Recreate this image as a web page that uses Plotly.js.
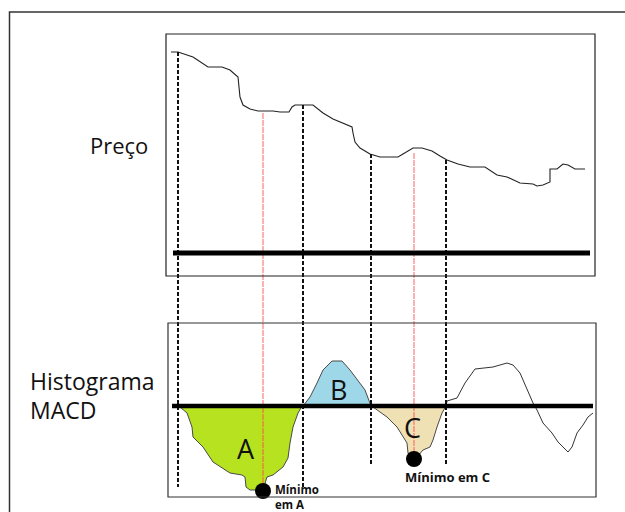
<!DOCTYPE html>
<html>
<head>
<meta charset="utf-8">
<script src="https://cdn.plot.ly/plotly-3.0.1.min.js"></script>
<style>html,body{margin:0;padding:0;background:#fff;}#chart{width:625px;height:512px;}</style>
</head>
<body>
<div id="chart"></div>
<script>
// Price path (time, level in chart rows; axis is reversed)
var priceT = [171,178,193,202,208,222,230,238,240,243,250,258,273,280,289,292,295,313,323,333,343,352,353,355,360,370,380,398,403,413,422,432,440,447,458,470,485,497,507,520,533,537,543,550,550,557,563,568,575,585];
var priceV = [52,52,57,63,67,67,70,77,97,105,109,111,111,112,112,107,105,105,113,119,123,127,133,142,148,154,157,157,154,148,148,151,156,160,164,167,167,175,177,183,184,186,185,182,169,169,164,165,169,169];

// MACD histogram segments
var areaAT = [178,180,187,192,193,203,213,230,242,245,246,250,263,267,273,283,288,290,293,298,302,178];
var areaAV = [406,407,413,427,437,447,462,473,475,477,487,490,490,477,475,467,458,443,427,413,406,406];
var areaBT = [303,310,317,323,332,342,350,360,365,368,371,303];
var areaBV = [406,397,383,370,361,361,370,383,390,398,406,406];
var areaCT = [371,373,387,397,407,408,417,423,430,433,437,442,446,371];
var areaCV = [406,407,417,427,443,453,457,450,447,440,427,413,406,406];
var restT = [446,447,457,465,475,493,507,513,520,527,533,537,543,552,558,563,568,572,577,583,588,593];
var restV = [406,401,398,383,369,367,363,365,373,390,403,410,423,433,442,447,452,447,433,425,417,413];

// Zero-crossing dividers and minima markers
var crossT = [178,303,371,446];
var crossTop = [52,105,154,160];
var crossBottom = [487,487,465,465];
var minT = [263,414];
var minTop = [113,153];
var minBottom = [485,452];
var minDotV = [491,459];

var traces = [];
function fillArea(t, v, color) {
  traces.push({x:t, y:v, mode:'lines', fill:'toself', fillcolor:color,
    line:{color:'#4a4a4a', width:1}, hoverinfo:'skip', showlegend:false});
}
fillArea(areaAT, areaAV, '#b6e21f');
fillArea(areaBT, areaBV, '#9ed8e8');
fillArea(areaCT, areaCV, '#efe1b3');
traces.push({x:restT, y:restV, mode:'lines', line:{color:'#333', width:1}, showlegend:false, hoverinfo:'skip'});
traces.push({x:priceT, y:priceV, mode:'lines', line:{color:'#222', width:1.1}, showlegend:false, hoverinfo:'skip'});

for (var i = 0; i < crossT.length; i++) {
  traces.push({x:[crossT[i], crossT[i]], y:[crossTop[i], crossBottom[i]], mode:'lines',
    line:{color:'#111', width:2, dash:'4px,2px'}, showlegend:false, hoverinfo:'skip'});
}
for (var j = 0; j < minT.length; j++) {
  traces.push({x:[minT[j], minT[j]], y:[minTop[j], minBottom[j]], mode:'lines',
    line:{color:'rgba(255,70,70,0.85)', width:1, dash:'6px,1px'}, showlegend:false, hoverinfo:'skip'});
}
traces.push({x:minT, y:minDotV, mode:'markers', marker:{color:'#000', size:16, line:{width:0}}, showlegend:false, hoverinfo:'skip'});

var fontMain = 'Open Sans, DejaVu Sans, sans-serif';
var layout = {
  width:625, height:512,
  margin:{l:0,r:0,t:0,b:0},
  paper_bgcolor:'#fff', plot_bgcolor:'#fff',
  xaxis:{range:[0,625], visible:false, fixedrange:true},
  yaxis:{range:[512,0], visible:false, fixedrange:true},
  shapes:[
    {type:'rect', xref:'x', yref:'y', x0:9.5, y0:12, x1:640, y1:530, line:{color:'#333', width:1.5}},
    {type:'rect', xref:'x', yref:'y', x0:166, y0:34, x1:595, y1:276, line:{color:'#222', width:1.2}},
    {type:'rect', xref:'x', yref:'y', x0:168, y0:323, x1:596, y1:497, line:{color:'#333', width:1.2}},
    {type:'line', xref:'x', yref:'y', x0:173, y0:253, x1:590, y1:253, line:{color:'#000', width:5}},
    {type:'line', xref:'x', yref:'y', x0:172, y0:406, x1:593, y1:406, line:{color:'#000', width:4.5}, layer:'above'}
  ],
  annotations:[
    {x:119, y:145, text:'Preço', showarrow:false, font:{family:fontMain, size:22, color:'#111'}},
    {x:28, y:381, xanchor:'left', text:'Histograma', showarrow:false, font:{family:fontMain, size:23, color:'#111'}},
    {x:28, y:410, xanchor:'left', text:'MACD', showarrow:false, font:{family:fontMain, size:23, color:'#111'}},
    {x:246, y:448, text:'A', showarrow:false, font:{family:fontMain, size:27, color:'#111'}},
    {x:338, y:389, text:'B', showarrow:false, font:{family:fontMain, size:27, color:'#111'}},
    {x:412, y:427, text:'C', showarrow:false, font:{family:fontMain, size:27, color:'#111'}},
    {x:273, y:480, xanchor:'left', yanchor:'top', align:'left', text:'<b>Mínimo<br>em A</b>', showarrow:false, font:{family:fontMain, size:11.5, color:'#111'}},
    {x:447, y:477, text:'<b>Mínimo em C</b>', showarrow:false, font:{family:fontMain, size:13, color:'#111'}}
  ]
};
Plotly.newPlot('chart', traces, layout, {staticPlot:true, displayModeBar:false});
</script>
</body>
</html>
